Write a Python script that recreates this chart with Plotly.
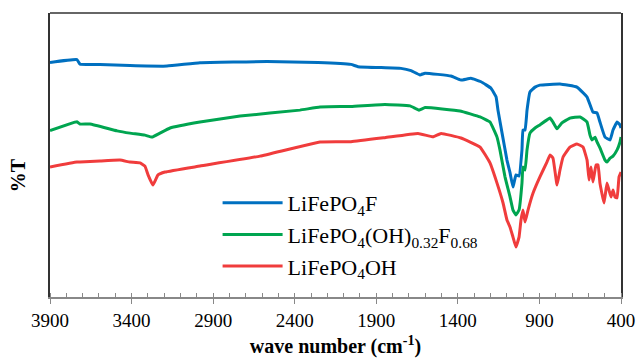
import plotly.graph_objects as go

# Wavenumbers (cm-1) and %T values
wn_F = [3900, 3735, 3716, 3594, 3410, 3183, 2981, 2570, 2257, 2055, 2012, 1749, 1687, 1632, 1601,
        1442, 1381, 1320, 1258, 1197, 1166, 1154, 1129, 1099, 1080, 1062, 1044, 1025, 1007, 1001,
        988, 976, 958, 927, 897, 774, 670, 608, 572, 547, 529, 498, 467, 449, 424, 406, 400]
t_F = [82.6, 83.6, 82.0, 81.9, 81.5, 81.3, 82.5, 82.9, 82.6, 81.9, 81.1, 80.5, 79.7, 78.2, 78.8,
       77.8, 76.4, 77.0, 75.8, 73.5, 70.5, 65.8, 57.7, 48.2, 43.7, 38.7, 43.0, 42.6, 51.8, 58.8,
       58.8, 65.8, 72.2, 73.9, 74.6, 75.0, 73.9, 70.4, 65.1, 64.8, 61.6, 56.3, 55.3, 58.8, 61.6, 60.6, 59.5]

wn_mix = [3900, 3735, 3716, 3655, 3489, 3410, 3318, 3275, 3226, 3164, 2981, 2735, 2368, 2245, 2055,
          1847, 1693, 1638, 1601, 1387, 1264, 1203, 1160, 1142, 1111, 1080, 1062, 1044, 1025, 1007,
          1001, 988, 976, 958, 927, 897, 835, 817, 792, 762, 713, 651, 608, 590, 578, 559, 547, 529,
          498, 486, 467, 449, 424, 406, 400]
t_mix = [58.6, 61.7, 60.9, 60.9, 58.5, 57.7, 57.0, 56.3, 57.7, 59.5, 61.6, 63.7, 65.8, 66.9, 67.1,
         67.8, 67.3, 65.8, 66.7, 65.5, 63.4, 61.6, 56.3, 51.8, 42.3, 35.2, 30.6, 28.9, 30.6, 40.1,
         45.8, 44.7, 51.8, 57.7, 59.5, 60.6, 63.0, 61.6, 59.2, 61.3, 63.0, 63.4, 61.6, 57.0, 55.3, 56.3, 54.6, 52.5,
         48.2, 47.5, 48.9, 49.6, 51.8, 54.6, 56.3]

wn_OH = [3900, 3735, 3716, 3594, 3471, 3410, 3348, 3318, 3299, 3269, 3238, 3195, 2981, 2613, 2245,
         2055, 1847, 1644, 1552, 1503, 1381, 1264, 1203, 1160, 1123, 1099, 1080, 1062, 1044, 1025,
         1013, 1001, 988, 970, 939, 897, 854, 835, 817, 792, 774, 755, 713, 670, 633, 608, 596, 584,
         572, 553, 541, 529, 504, 486, 474, 461, 449, 437, 424, 412, 400]
t_OH = [45.8, 47.5, 47.5, 47.9, 48.2, 47.5, 47.2, 46.1, 43.0, 39.4, 43.0, 44.0, 46.1, 49.6, 54.6,
        54.7, 56.1, 57.6, 56.4, 57.6, 56.0, 52.8, 47.2, 40.1, 33.1, 27.1, 24.6, 21.1, 17.6, 21.1,
        27.1, 30.6, 26.4, 30.6, 36.6, 42.3, 47.5, 50.0, 48.9, 39.4, 44.7, 49.3, 52.8, 53.9, 52.8, 48.2, 41.2, 45.8,
        40.5, 46.5, 46.5, 40.1, 33.1, 40.1, 37.7, 35.2, 37.7, 35.2, 34.9, 42.3, 44.0]

names = ["LiFePO<sub>4</sub>F",
         "LiFePO<sub>4</sub>(OH)<sub>0.32</sub>F<sub>0.68</sub>",
         "LiFePO<sub>4</sub>OH"]
colors = ["#0070C0", "#00A550", "#F03C3C"]
tickvals = [3900, 3400, 2900, 2400, 1900, 1400, 900, 400]

serif = "Liberation Serif, Times New Roman, serif"

fig = go.Figure()
for wn, t, nm, c in zip([wn_F, wn_mix, wn_OH], [t_F, t_mix, t_OH], names, colors):
    fig.add_trace(go.Scatter(x=wn, y=t, mode="lines", name=nm,
                             line=dict(color=c, width=3, shape="spline", smoothing=0.3)))

fig.update_layout(
    width=638, height=358,
    margin=dict(l=50, r=17, t=13, b=61, autoexpand=False),
    plot_bgcolor="white", paper_bgcolor="white",
    font=dict(family=serif, color="black"),
    legend=dict(x=0.2935, y=0.405, xanchor="left", yanchor="top",
                font=dict(family=serif, size=22, color="black"),
                bgcolor="rgba(0,0,0,0)", itemwidth=60, tracegroupgap=0),
    xaxis=dict(range=[3900, 400], tickvals=tickvals, ticktext=[str(v) for v in tickvals],
               automargin=False,
               ticks="outside", ticklen=5, tickcolor="#888888", tickwidth=1,
               minor=dict(dtick=100, tick0=400, ticks="inside", ticklen=4, tickcolor="#888888", tickwidth=1),
               showline=True, linecolor="#888888", linewidth=1.5, mirror=False,
               showgrid=False, zeroline=False,
               tickfont=dict(family=serif, size=19, color="black"),
               title=dict(text="<b>wave number (cm<sup>-1</sup>)</b>", standoff=11,
                          font=dict(family=serif, size=20, color="black"))),
    xaxis2=dict(range=[3900, 400], overlaying="x", anchor="y", side="bottom",
                tickvals=tickvals, showticklabels=False, ticks="inside", ticklen=4,
                tickcolor="#888888", showgrid=False, zeroline=False, showline=False),
    yaxis=dict(range=[0, 100], showticklabels=False, ticks="", showgrid=False, zeroline=False,
               automargin=False,
               showline=True, linecolor="#333333", linewidth=1.5, mirror=True),
    showlegend=True,
)
fig.add_annotation(text="<b>%T</b>", xref="paper", yref="paper", x=-0.057, y=0.43,
                   textangle=-90, showarrow=False, xanchor="center", yanchor="middle",
                   font=dict(family=serif, size=20, color="black"))
fig.add_shape(type="line", xref="paper", yref="paper", x0=0, x1=1, y0=1, y1=1,
              line=dict(color="#333333", width=1.5))

fig.write_html("out.html",
               config={"displayModeBar": False},
               post_script="document.body.style.margin='0';document.body.style.overflow='hidden';")
